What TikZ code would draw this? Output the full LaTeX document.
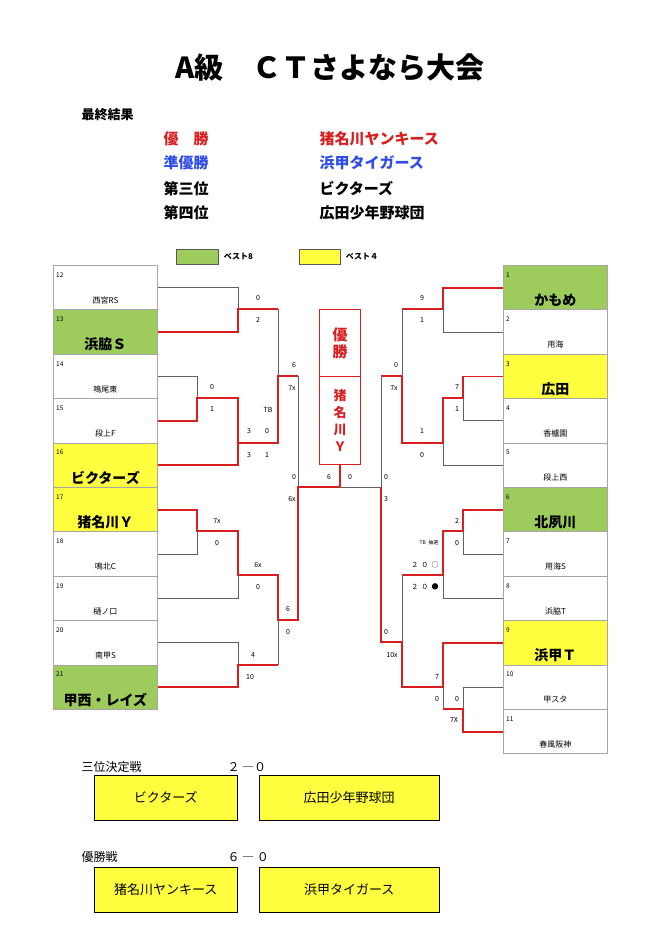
\documentclass[tikz,border=0pt]{standalone}
\usepackage{fontspec}
\setmainfont{Noto Sans CJK JP}
\newcommand\jpbold{\bfseries}
\usepackage{tikz}
\usetikzlibrary{positioning}
\definecolor{best8}{HTML}{9DCB5C}
\definecolor{best4}{HTML}{FFFF40}
\definecolor{winred}{HTML}{D81E1E}
\definecolor{runblue}{HTML}{2F4BE8}
\tikzset{
	team/.style={draw=gray!70, line width=0.8pt, minimum width=104pt, minimum height=44.4pt, anchor=north west, inner sep=0pt},
	num/.style={font=\fontsize{6.5}{7}\selectfont, anchor=west, inner sep=0pt},
	plain/.style={font=\fontsize{8}{9}\selectfont},
	heavy/.style={font=\bfseries\fontsize{14}{15}\selectfont},
	score/.style={font=\fontsize{7}{8}\selectfont, inner sep=0pt},
	lose/.style={draw=gray!75!black, line width=0.7pt},
	win/.style={draw=winred, line width=1.8pt},
	final/.style={draw=black, fill=best4, minimum width=143pt, minimum height=45pt, anchor=north west, inner sep=0pt, font=\fontsize{13}{14}\selectfont}
}
\begin{document}
\begin{tikzpicture}[x=1pt, y=-1pt]
	\useasboundingbox (0,0) rectangle (661,935);

	% === HEADER ===
	\node[font=\jpbold\fontsize{29}{30}\selectfont] (title) at (330,68) {A級\quad ＣＴさよなら大会};
	\node[font=\jpbold\fontsize{13}{14}\selectfont, anchor=west] (result) at (78,115) {最終結果};
	\node[font=\jpbold\fontsize{15}{16}\selectfont, anchor=west, text=winred] (p1) at (160,139) {優\quad 勝};
	\node[font=\jpbold\fontsize{15}{16}\selectfont, anchor=west, text=runblue] (p2) at (160,163) {準優勝};
	\node[font=\jpbold\fontsize{15}{16}\selectfont, anchor=west] (p3) at (160,189) {第三位};
	\node[font=\jpbold\fontsize{15}{16}\selectfont, anchor=west] (p4) at (160,213) {第四位};
	\node[font=\jpbold\fontsize{15}{16}\selectfont, anchor=west, text=winred] (t1) at (316,139) {猪名川ヤンキース};
	\node[font=\jpbold\fontsize{15}{16}\selectfont, anchor=west, text=runblue] (t2) at (316,163) {浜甲タイガース};
	\node[font=\jpbold\fontsize{15}{16}\selectfont, anchor=west] (t3) at (316,189) {ビクターズ};
	\node[font=\jpbold\fontsize{15}{16}\selectfont, anchor=west] (t4) at (316,213) {広田少年野球団};

	% legend
	\node[draw=gray!70!black, fill=best8, minimum width=42pt, minimum height=15pt, anchor=north west, inner sep=0pt] (key8) at (176,249) {};
	\node[font=\jpbold\fontsize{8}{9}\selectfont, right=2pt of key8] {ベスト8};
	\node[draw=gray!70!black, fill=best4, minimum width=41pt, minimum height=15pt, anchor=north west, inner sep=0pt] (key4) at (299,249) {};
	\node[font=\jpbold\fontsize{8}{9}\selectfont, right=2pt of key4] {ベスト４};

	% === TEAMS ===
	\foreach \n/\t/\c/\f [count=\i from 0] in {12/西宮RS/white/plain, 13/浜脇Ｓ/best8/heavy, 14/鳴尾東/white/plain, 15/段上F/white/plain, 16/ビクターズ/best4/heavy, 17/猪名川Ｙ/best4/heavy, 18/鳴北C/white/plain, 19/樋ノ口/white/plain, 20/南甲S/white/plain, 21/甲西・レイズ/best8/heavy} {
		\node[team, fill=\c] (L\n) at (53,{265+44.4*\i}) {};
		\node[num] at ([shift={(3,10)}]L\n.north west) {\n};
		\node[\f] at ([shift={(0,-10)}]L\n.south) {\t};
	}
	\foreach \n/\t/\c/\f [count=\i from 0] in {1/かもめ/best8/heavy, 2/用海/white/plain, 3/広田/best4/heavy, 4/香櫨園/white/plain, 5/段上西/white/plain, 6/北夙川/best8/heavy, 7/用海S/white/plain, 8/浜脇T/white/plain, 9/浜甲Ｔ/best4/heavy, 10/甲スタ/white/plain, 11/春風阪神/white/plain} {
		\node[team, fill=\c] (R\n) at (503,{265+44.4*\i}) {};
		\node[num] at ([shift={(3,10)}]R\n.north west) {\n};
		\node[\f] at ([shift={(0,-10)}]R\n.south) {\t};
	}

	% champion box
	\node[draw=winred, line width=1pt, minimum width=41pt, minimum height=67pt, anchor=north west, inner sep=0pt, text=winred, font=\jpbold\fontsize{15}{17}\selectfont, align=center] (champ) at (319,309) {優\\勝};
	\node[draw=winred, line width=1pt, minimum width=41pt, minimum height=88pt, anchor=north west, inner sep=0pt, text=winred, font=\jpbold\fontsize{13}{17}\selectfont, align=center] (champteam) at (319,376) {猪\\名\\川\\Ｙ};

	% === LEFT BRACKET ===
	\draw[lose] (L12.east) -| (238,309);
	\draw[win] (L13.east) -| (238,309) -- (278,309);
	\draw[lose] (L14.east) -| (197,398);
	\draw[win] (L15.east) -| (197,398) -- (238,398) -- (238,443);
	\draw[win] (L16.east) -| (238,443) -- (278,443) |- (298,376);
	\draw[lose] (278,309) -- (278,376);
	\draw[lose] (298,376) -- (298,487);
	\draw[win] (L17.east) -| (197,531) -- (238,531) |- (278,575) |- (298,620) -- (298,487) -| (champteam.south);
	\draw[lose] (L18.east) -| (197,531);
	\draw[lose] (L19.east) -| (238,575);
	\draw[lose] (L20.east) -| (238,665);
	\draw[win] (L21.east) -| (238,665) -- (278,665);
	\draw[lose] (278,665) -- (278,620);

	% === RIGHT BRACKET ===
	\draw[win] (R1.west) -| (443,309) -- (402,309);
	\draw[lose] (R2.west) -| (443,309);
	\draw[win] (R3.west) -| (463,398) -- (443,398) -- (443,443);
	\draw[lose] (R4.west) -| (463,398);
	\draw[lose] (R5.west) -| (443,443);
	\draw[win] (443,443) -- (402,443) |- (381,376);
	\draw[lose] (402,309) -- (402,376);
	\draw[lose] (381,376) -- (381,487) -- (339,487);
	\draw[win] (R6.west) -| (463,531) -- (443,531) |- (402,575);
	\draw[lose] (R7.west) -| (463,531);
	\draw[lose] (R8.west) -| (443,575);
	\draw[lose] (402,575) -- (402,642);
	\draw[win] (R9.west) -| (443,687) -- (402,687) |- (381,642) -- (381,487);
	\draw[lose] (443,687) -- (443,709);
	\draw[lose] (R10.west) -| (463,709);
	\draw[win] (R11.west) -| (463,709) -- (443,709);

	% === SCORES ===
	\foreach \x/\y/\s in {258/298/0, 258/320/2, 294/365/6, 292/388/7x, 212/387/0, 212/409/1, 268/410/TB, 249/431/3, 267/431/0, 249/455/3, 267/455/1, 294/477/0, 292/499/6x, 217/521/7x, 217/543/0, 258/565/6x, 258/587/0, 288/609/6, 288/632/0, 253/655/4, 250/677/10, 329/477/6, 350/477/0,
		422/298/9, 422/320/1, 396/365/0, 394/388/7x, 457/387/7, 457/409/1, 422/431/1, 422/455/0, 386/477/0, 386/499/3, 457/521/2, 457/543/0, 386/632/0, 392/655/10x, 437/677/7, 437/699/0, 457/699/0, 454/720/7X}
		\node[score] at (\x,\y) {\s};
	\node[score, font=\fontsize{5}{6}\selectfont] at (429,543) {TB\ \ 抽選};
	\node[score] at (425,565) {２\ \ ０\ \ ○};
	\node[score] at (425,587) {２\ \ ０\ \ ●};

	% === FINALS ===
	\node[font=\fontsize{12}{13}\selectfont, anchor=west] (third) at (78,767) {三位決定戦};
	\node[font=\fontsize{12}{13}\selectfont, anchor=west] at (224,767) {２ ―０};
	\node[final] (f3a) at (94,775) {ビクターズ};
	\node[final, minimum width=180pt] (f3b) at (259,775) {広田少年野球団};
	\node[font=\fontsize{12}{13}\selectfont, anchor=west] (champgame) at (78,857) {優勝戦};
	\node[font=\fontsize{12}{13}\selectfont, anchor=west] at (224,857) {６ ― ０};
	\node[final] (f1a) at (94,867) {猪名川ヤンキース};
	\node[final, minimum width=180pt] (f1b) at (259,867) {浜甲タイガース};
\end{tikzpicture}
\end{document}
